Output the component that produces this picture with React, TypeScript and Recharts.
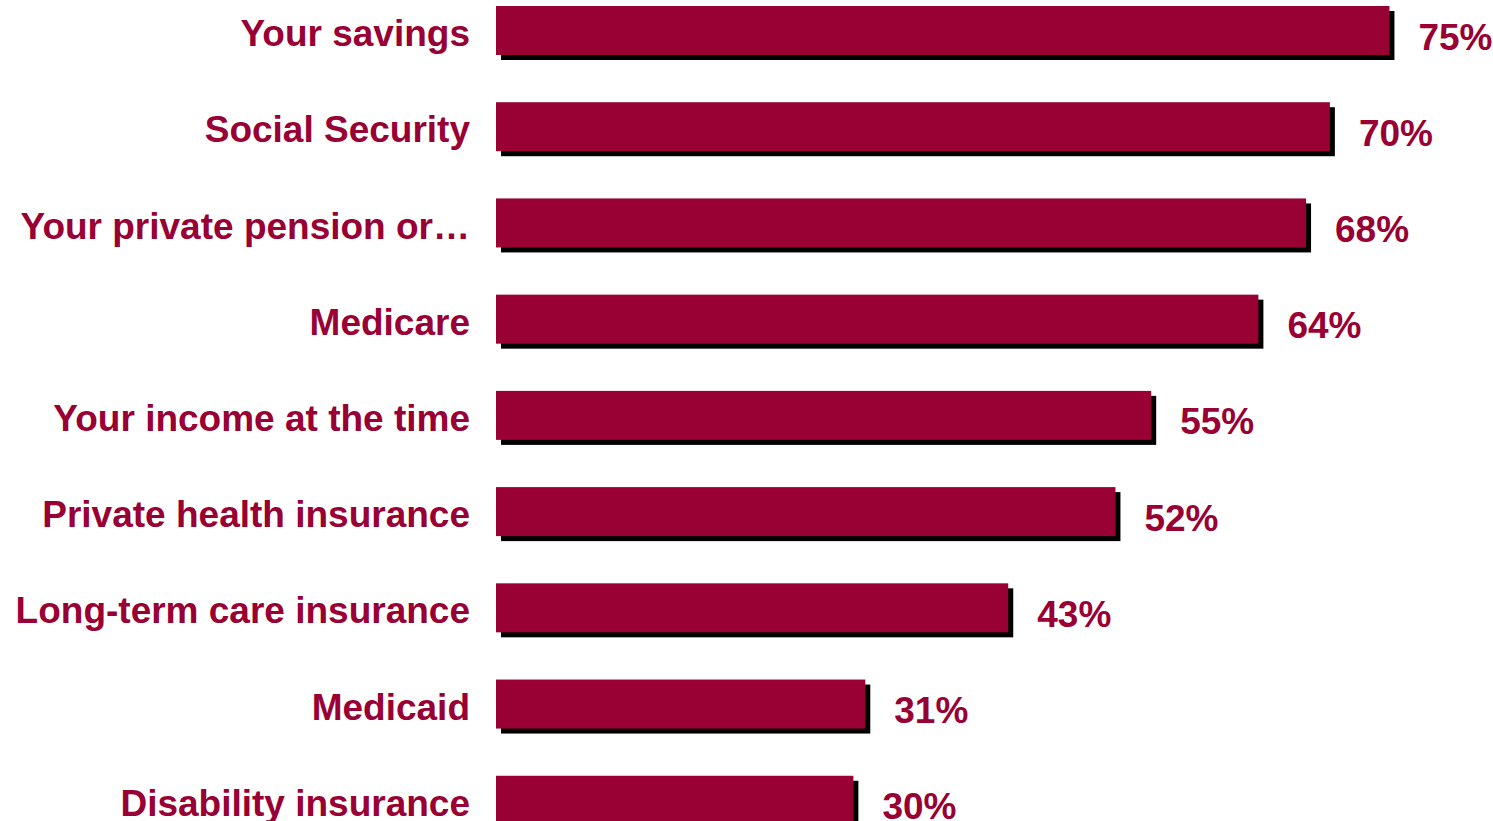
import React from "react";
import { BarChart, Bar, XAxis, YAxis, LabelList } from "recharts";

const categories = [
  "Your savings",
  "Social Security",
  "Your private pension or…",
  "Medicare",
  "Your income at the time",
  "Private health insurance",
  "Long-term care insurance",
  "Medicaid",
  "Disability insurance",
];

const values = [75, 70, 68, 64, 55, 52, 43, 31, 30];

const data = categories.map((name, i) => ({ name, value: values[i] }));

const RED = "#990033";
const FONT = "'Liberation Sans', Arial, Helvetica, sans-serif";

const ShadowBar = (props: any) => {
  const { x, y, width, height } = props;
  if (!width || width <= 0) return null;
  return (
    <g>
      <rect x={x + 5} y={y + 5} width={width} height={height} fill="#000000" />
      <rect x={x} y={y} width={width} height={height} fill={RED} />
    </g>
  );
};

const CategoryTick = (props: any) => {
  const { x, y, payload } = props;
  return (
    <text
      x={x}
      y={y + 16}
      textAnchor="end"
      fill={RED}
      fontFamily={FONT}
      fontWeight="bold"
      fontSize={37}
    >
      {payload.value}
    </text>
  );
};

const ValueLabel = (props: any) => {
  const { x, y, width, height, value } = props;
  return (
    <text
      x={x + width + 29}
      y={y + height / 2 + 19}
      textAnchor="start"
      fill={RED}
      fontFamily={FONT}
      fontWeight="bold"
      fontSize={37}
    >
      {value}%
    </text>
  );
};

export default function App() {
  return (
    <div
      style={{
        position: "fixed",
        top: 0,
        left: 0,
        width: 1493,
        height: 821,
        overflow: "hidden",
        background: "#ffffff",
      }}
    >
      <div style={{ position: "absolute", top: -18, left: 0 }}>
        <BarChart
          width={1493}
          height={866}
          data={data}
          layout="vertical"
          margin={{ top: 0, right: 44, bottom: 0, left: 0 }}
        >
          <XAxis type="number" domain={[0, 80]} hide />
          <YAxis
            type="category"
            dataKey="name"
            width={496}
            axisLine={false}
            tickLine={false}
            tickSize={0}
            tickMargin={26}
            interval={0}
            tick={<CategoryTick />}
          />
          <Bar
            dataKey="value"
            barSize={49}
            shape={<ShadowBar />}
            isAnimationActive={false}
          >
            <LabelList dataKey="value" content={<ValueLabel />} />
          </Bar>
        </BarChart>
      </div>
    </div>
  );
}
